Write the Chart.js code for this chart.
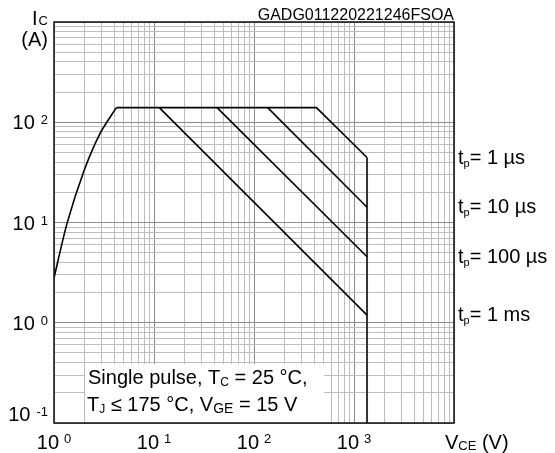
<!DOCTYPE html>
<html><head><meta charset="utf-8">
<script src="https://cdn.jsdelivr.net/npm/chart.js@4"></script>
<style>html,body{margin:0;padding:0;background:#fff}canvas{display:block}</style>
</head><body>
<canvas id="c" width="555" height="453"></canvas>
<script>
// ---- data ----
const xDecades = [1, 10, 100, 1000, 10000];
const xExponents = ['0', '1', '2', '3'];
const yDecades = [0.1, 1, 10, 100, 1000];
const yExponents = ['-1', '0', '1', '2'];
const curveV = [1, 1.35, 2, 2.9, 4.2];          // rising limit
const curveI = [2.8, 9.8, 33, 78, 140];
const plateauI = 140;                           // current limit (A)
const pulseLabels = ['1 µs', '10 µs', '100 µs', '1 ms'];
const kneeV = [421, 137, 42.7, 11.3];           // where each pulse line leaves the plateau
const endI = [44.5, 14.2, 4.55, 1.19];          // current at the voltage limit
const vLimit = 1350;                            // vertical voltage limit (V)
const boxV = [2, 500];                          // note box extent
const boxI = [0.1, 0.4];

// grid positions (1..9 per decade)
function logGrid(decs) {
  const out = [];
  for (let i = 0; i < decs.length - 1; i++)
    for (let m = 1; m < 10; m++) out.push(+(decs[i] * m).toPrecision(6));
  out.push(decs[decs.length - 1]);
  return out;
}
const xGrid = logGrid(xDecades);
const yGrid = logGrid(yDecades);

const FONT = '"Liberation Sans", Arial, Helvetica, sans-serif';
const isDecade = v => Math.abs(Math.log10(v) - Math.round(Math.log10(v))) < 1e-6;

const datasets = [];
datasets.push({
  data: curveV.map((v, i) => ({x: v, y: curveI[i]})),
  borderColor: '#000', borderWidth: 1.6, pointRadius: 0, showLine: true,
  tension: 0.25
});
// plateau + 1 µs line
datasets.push({
  data: [{x: curveV[curveV.length - 1], y: plateauI}, {x: kneeV[0], y: plateauI}, {x: vLimit, y: endI[0]}],
  borderColor: '#000', borderWidth: 1.6, pointRadius: 0, showLine: true, tension: 0
});
for (let k = 1; k < kneeV.length; k++) {
  datasets.push({
    data: [{x: kneeV[k], y: plateauI}, {x: vLimit, y: endI[k]}],
    borderColor: '#000', borderWidth: 1.6, pointRadius: 0, showLine: true, tension: 0
  });
}
datasets.push({
  data: [{x: vLimit, y: endI[0]}, {x: vLimit, y: yDecades[0]}],
  borderColor: '#333', borderWidth: 2, pointRadius: 0, showLine: true, tension: 0
});

function rich(ctx, parts, x, y, align) {
  let w = 0;
  parts.forEach(p => { ctx.font = p.s + 'px ' + FONT; p.w = ctx.measureText(p.t).width; w += p.w + (p.gap || 0); });
  let cx = align === 'right' ? x - w : align === 'center' ? x - w / 2 : x;
  ctx.textAlign = 'left'; ctx.textBaseline = 'alphabetic'; ctx.fillStyle = '#000';
  parts.forEach(p => {
    cx += (p.gap || 0);
    ctx.font = p.s + 'px ' + FONT;
    ctx.fillText(p.t, cx, y + (p.dy || 0));
    cx += p.w;
  });
}

const boxPlugin = {
  id: 'box',
  beforeDatasetsDraw(chart) {
    const {ctx, scales: {x, y}} = chart;
    const x0 = x.getPixelForValue(boxV[0]), x1 = x.getPixelForValue(boxV[1]);
    const y0 = y.getPixelForValue(boxI[1]), y1 = y.getPixelForValue(boxI[0]);
    ctx.save();
    ctx.fillStyle = '#fff';
    ctx.fillRect(Math.round(x0) + 1, Math.round(y0) + 1, Math.round(x1) - Math.round(x0) - 1, Math.round(y1) - Math.round(y0) - 1);
    ctx.restore();
  },
  afterDraw(chart) {
    const {ctx, chartArea: a, scales: {x, y}} = chart;
    ctx.save();
    // frame
    ctx.strokeStyle = '#111'; ctx.lineWidth = 1.5;
    ctx.strokeRect(a.left, a.top, a.right - a.left, a.bottom - a.top);
    // x tick labels
    for (let i = 0; i < xExponents.length; i++) {
      const px = x.getPixelForValue(xDecades[i]);
      rich(ctx, [{t: '10', s: 20}, {t: xExponents[i], s: 13, dy: -6, gap: 5}], px, 449, 'center');
    }
    // y tick labels
    for (let i = 0; i < yExponents.length; i++) {
      let py = y.getPixelForValue(yDecades[i]);
      if (i === 0) py -= 9;
      rich(ctx, [{t: '10', s: 20}, {t: yExponents[i], s: 13, dy: -5, gap: 6}], 48, py + 7, 'right');
    }
    // axis titles
    rich(ctx, [{t: 'I', s: 20}, {t: 'C', s: 13, dy: 0, gap: 1}], 48, 25, 'right');
    rich(ctx, [{t: '(A)', s: 20}], 48, 46, 'right');
    rich(ctx, [{t: 'V', s: 20}, {t: 'CE', s: 13, dy: 1}, {t: ' (V)', s: 20}], 445, 449, 'left');
    // top-right id
    ctx.font = '16px ' + FONT; ctx.textAlign = 'right'; ctx.fillStyle = '#000';
    ctx.fillText('GADG011220221246FSOA', a.right, 20);
    // pulse labels
    for (let k = 0; k < pulseLabels.length; k++) {
      const py = y.getPixelForValue(endI[k]);
      rich(ctx, [{t: 't', s: 20}, {t: 'p', s: 11, dy: 3}, {t: '= ' + pulseLabels[k], s: 20}], 458, py + 6, 'left');
    }
    // note text
    rich(ctx, [{t: 'Single pulse, T', s: 20}, {t: 'C', s: 12, dy: 2}, {t: ' = 25 °C,', s: 20}], 88, 384, 'left');
    rich(ctx, [{t: 'T', s: 20}, {t: 'J', s: 12, dy: 2}, {t: ' ≤ 175 °C, V', s: 20}, {t: 'GE', s: 14, dy: 2}, {t: ' = 15 V', s: 20}], 87, 411, 'left');
    ctx.restore();
  }
};

const gridColor = ctx => (ctx.tick && isDecade(ctx.tick.value)) ? '#8c8c8c' : '#bdbdbd';

new Chart(document.getElementById('c'), {
  type: 'scatter',
  data: {datasets},
  options: {
    responsive: false, animation: false, devicePixelRatio: 1,
    layout: {padding: {left: 54, right: 101, top: 22, bottom: 30}},
    plugins: {legend: {display: false}, tooltip: {enabled: false}},
    scales: {
      x: {
        type: 'logarithmic', min: xDecades[0], max: xDecades[xDecades.length - 1],
        afterBuildTicks: s => { s.ticks = xGrid.map(v => ({value: v})); },
        ticks: {display: false},
        grid: {color: gridColor, lineWidth: 1, drawTicks: false},
        border: {display: false}
      },
      y: {
        type: 'logarithmic', min: yDecades[0], max: yDecades[yDecades.length - 1],
        afterBuildTicks: s => { s.ticks = yGrid.map(v => ({value: v})); },
        ticks: {display: false},
        grid: {color: gridColor, lineWidth: 1, drawTicks: false},
        border: {display: false}
      }
    }
  },
  plugins: [boxPlugin]
});
</script>
</body></html>
